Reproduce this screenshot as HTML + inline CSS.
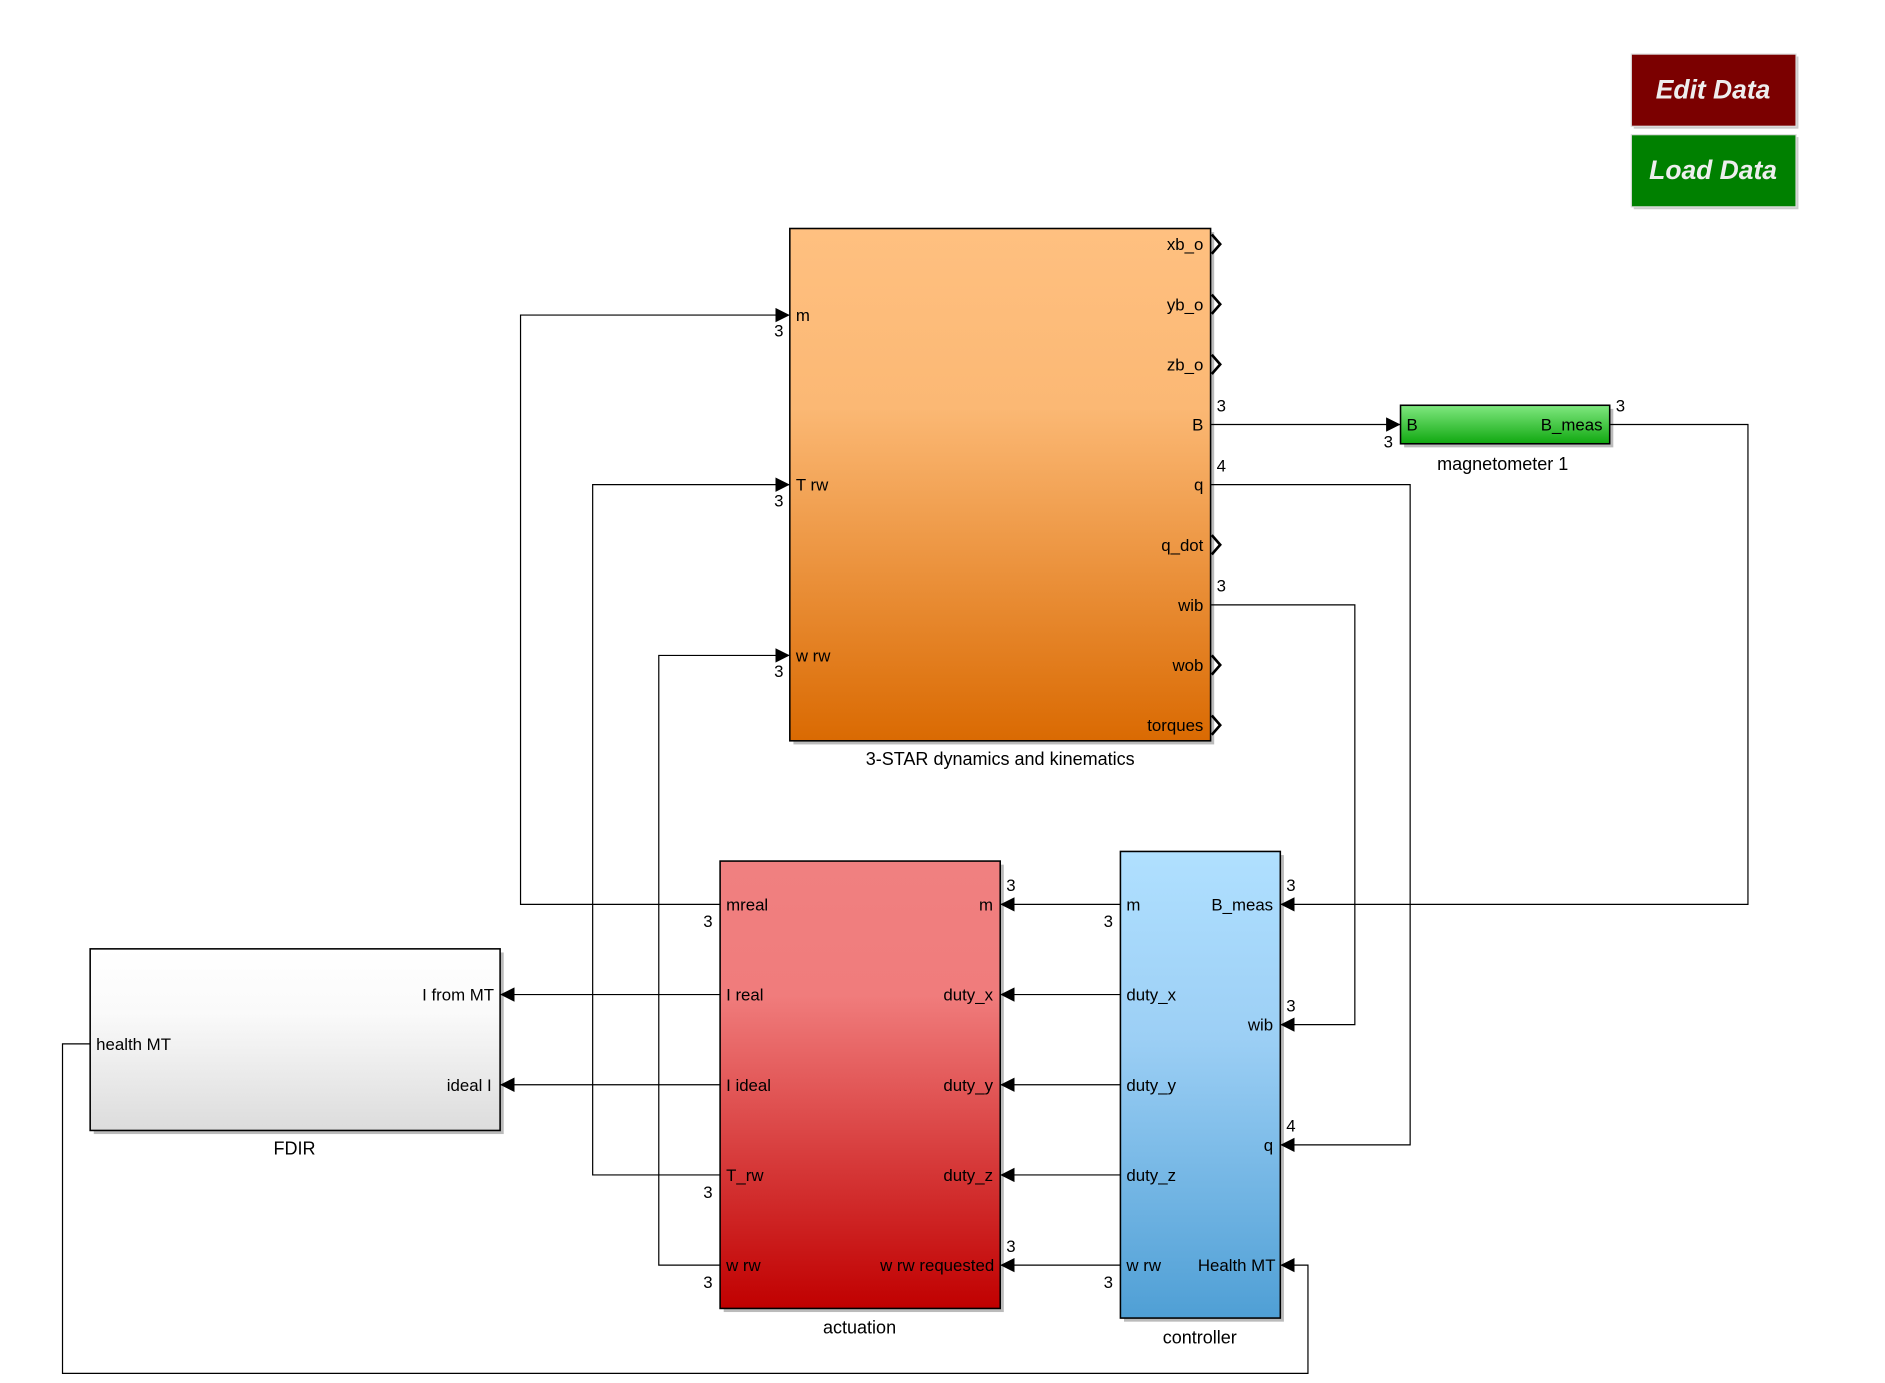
<!DOCTYPE html>
<html><head><meta charset="utf-8"><style>
html,body{margin:0;padding:0;background:#fff;}
svg{display:block;}
text{font-family:"Liberation Sans",Arial,sans-serif;font-size:14px;fill:#000;}
</style></head><body>
<svg width="1885" height="1383" viewBox="0 0 1568 1150" preserveAspectRatio="none" xmlns="http://www.w3.org/2000/svg">
<defs>
<linearGradient id="gOr" x1="0" y1="0" x2="0" y2="1"><stop offset="0" stop-color="#ffc080"/><stop offset="0.35" stop-color="#fbb874"/><stop offset="1" stop-color="#da6a02"/></linearGradient>
<linearGradient id="gRd" x1="0" y1="0" x2="0" y2="1"><stop offset="0" stop-color="#f08080"/><stop offset="0.3" stop-color="#f07c7c"/><stop offset="1" stop-color="#c00000"/></linearGradient>
<linearGradient id="gBl" x1="0" y1="0" x2="0" y2="1"><stop offset="0" stop-color="#b0e0ff"/><stop offset="0.4" stop-color="#9ccff5"/><stop offset="1" stop-color="#4f9fd5"/></linearGradient>
<linearGradient id="gGr" x1="0" y1="0" x2="0" y2="1"><stop offset="0" stop-color="#80e880"/><stop offset="1" stop-color="#10a810"/></linearGradient>
<linearGradient id="gWh" x1="0" y1="0" x2="0" y2="1"><stop offset="0" stop-color="#ffffff"/><stop offset="0.35" stop-color="#fafafa"/><stop offset="1" stop-color="#dcdcdc"/></linearGradient>
<marker id="ar" markerWidth="13" markerHeight="12" refX="12" refY="6" orient="auto" markerUnits="userSpaceOnUse"><path d="M0,0 L12,6 L0,12 z" fill="#000"/></marker>
</defs>

<rect x="1359" y="47" width="137" height="60" fill="#ccc"/>
<rect x="1357" y="45" width="137" height="60" fill="#7b0000" stroke="#ddd"/>
<text x="1425" y="82" text-anchor="middle" style="font-size:22px;font-weight:bold;font-style:italic;fill:#eee">Edit Data</text>
<rect x="1359" y="114" width="137" height="60" fill="#ccc"/>
<rect x="1357" y="112" width="137" height="60" fill="#008000" stroke="#ddd"/>
<text x="1425" y="149" text-anchor="middle" style="font-size:22px;font-weight:bold;font-style:italic;fill:#eee">Load Data</text>

<rect x="660" y="193" width="350" height="426" fill="#bbb"/>
<rect x="1168" y="340" width="174" height="32" fill="#bbb"/>
<rect x="602" y="719" width="233" height="372" fill="#bbb"/>
<rect x="935" y="711" width="133" height="388" fill="#bbb"/>
<rect x="78" y="792" width="341" height="151" fill="#bbb"/>

<rect x="657" y="190" width="350" height="426" fill="url(#gOr)" stroke="#000" stroke-width="1.3"/>
<rect x="1165" y="337" width="174" height="32" fill="url(#gGr)" stroke="#000" stroke-width="1.3"/>
<rect x="599" y="716" width="233" height="372" fill="url(#gRd)" stroke="#000" stroke-width="1.3"/>
<rect x="932" y="708" width="133" height="388" fill="url(#gBl)" stroke="#000" stroke-width="1.3"/>
<rect x="75" y="789" width="341" height="151" fill="url(#gWh)" stroke="#000" stroke-width="1.3"/>

<g fill="none" stroke="#000" stroke-width="1">
<polyline points="599,752 433,752 433,262 657,262" marker-end="url(#ar)"/>
<polyline points="599,977 493,977 493,403 657,403" marker-end="url(#ar)"/>
<polyline points="599,1052 548,1052 548,545 657,545" marker-end="url(#ar)"/>
<polyline points="1007,353 1165,353" marker-end="url(#ar)"/>
<polyline points="1339,353 1454,353 1454,752 1065,752" marker-end="url(#ar)"/>
<polyline points="1007,403 1173,403 1173,952 1065,952" marker-end="url(#ar)"/>
<polyline points="1007,503 1127,503 1127,852 1065,852" marker-end="url(#ar)"/>
<polyline points="932,752 832,752" marker-end="url(#ar)"/>
<polyline points="932,827 832,827" marker-end="url(#ar)"/>
<polyline points="932,902 832,902" marker-end="url(#ar)"/>
<polyline points="932,977 832,977" marker-end="url(#ar)"/>
<polyline points="932,1052 832,1052" marker-end="url(#ar)"/>
<polyline points="599,827 416,827" marker-end="url(#ar)"/>
<polyline points="599,902 416,902" marker-end="url(#ar)"/>
<polyline points="75,868 52,868 52,1142 1088,1142 1088,1052 1065,1052" marker-end="url(#ar)"/>
</g>

<g fill="none" stroke="#000" stroke-width="2.2">
<polyline points="1008,195 1015,203 1008,211"/>
<polyline points="1008,245 1015,253 1008,261"/>
<polyline points="1008,295 1015,303 1008,311"/>
<polyline points="1008,445 1015,453 1008,461"/>
<polyline points="1008,545 1015,553 1008,561"/>
<polyline points="1008,595 1015,603 1008,611"/>
</g>

<g>
<text x="662" y="267">m</text>
<text x="662" y="408">T rw</text>
<text x="662" y="550">w rw</text>
<g text-anchor="end">
<text x="1001" y="208">xb_o</text>
<text x="1001" y="258">yb_o</text>
<text x="1001" y="308">zb_o</text>
<text x="1001" y="358">B</text>
<text x="1001" y="408">q</text>
<text x="1001" y="458">q_dot</text>
<text x="1001" y="508">wib</text>
<text x="1001" y="558">wob</text>
<text x="1001" y="608">torques</text>
</g>
<text x="644" y="280">3</text><text x="644" y="421">3</text><text x="644" y="563">3</text>
<text x="1012" y="342">3</text><text x="1012" y="392">4</text><text x="1012" y="492">3</text>
<text x="832" y="636" text-anchor="middle" style="font-size:15px">3-STAR dynamics and kinematics</text>
</g>

<text x="1170" y="358">B</text>
<text x="1333" y="358" text-anchor="end">B_meas</text>
<text x="1151" y="372">3</text>
<text x="1344" y="342">3</text>
<text x="1250" y="391" text-anchor="middle" style="font-size:15px">magnetometer 1</text>

<text x="604" y="757">mreal</text>
<text x="604" y="832">I real</text>
<text x="604" y="907">I ideal</text>
<text x="604" y="982">T_rw</text>
<text x="604" y="1057">w rw</text>
<g text-anchor="end">
<text x="826" y="757">m</text>
<text x="826" y="832">duty_x</text>
<text x="826" y="907">duty_y</text>
<text x="826" y="982">duty_z</text>
<text x="827" y="1057">w rw requested</text>
</g>
<text x="585" y="771">3</text><text x="585" y="996">3</text><text x="585" y="1071">3</text>
<text x="837" y="741">3</text><text x="837" y="1041">3</text>
<text x="715" y="1109" text-anchor="middle" style="font-size:15px">actuation</text>

<text x="937" y="757">m</text>
<text x="937" y="832">duty_x</text>
<text x="937" y="907">duty_y</text>
<text x="937" y="982">duty_z</text>
<text x="937" y="1057">w rw</text>
<g text-anchor="end">
<text x="1059" y="757">B_meas</text>
<text x="1059" y="857">wib</text>
<text x="1059" y="957">q</text>
<text x="1061" y="1057">Health MT</text>
</g>
<text x="918" y="771">3</text><text x="918" y="1071">3</text>
<text x="1070" y="741">3</text><text x="1070" y="841">3</text><text x="1070" y="941">4</text>
<text x="998" y="1117" text-anchor="middle" style="font-size:15px">controller</text>

<text x="80" y="873">health MT</text>
<text x="411" y="832" text-anchor="end">I from MT</text>
<text x="409" y="907" text-anchor="end">ideal I</text>
<text x="245" y="960" text-anchor="middle" style="font-size:15px">FDIR</text>
</svg>
</body></html>
